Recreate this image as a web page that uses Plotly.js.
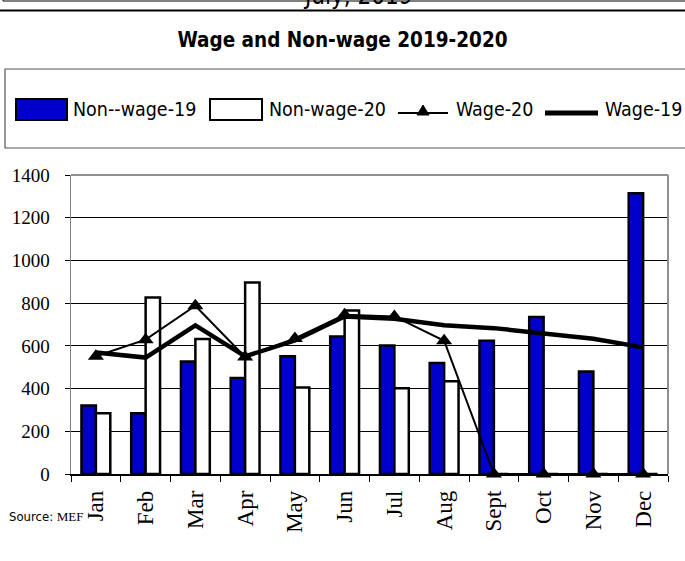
<!DOCTYPE html>
<html>
<head>
<meta charset="utf-8">
<script src="https://cdn.plot.ly/plotly-3.0.1.min.js"></script>
<style>html,body{margin:0;padding:0;background:#fff;}#chart{width:685px;height:561px;}</style>
</head>
<body>
<div id="chart"></div>
<script>
const months = ["Jan","Feb","Mar","Apr","May","Jun","Jul","Aug","Sept","Oct","Nov","Dec"];
const nonWage19 = [321, 285, 527, 449, 551, 644, 602, 520, 624, 735, 480, 1315];
const nonWage20 = [285, 827, 632, 897, 405, 766, 401, 434, 0, 0, 0, 0];
const wage20 = [551, 629, 788, 548, 635, 746, 738, 624, 0, 0, 0, 0];
const wage19 = [569, 545, 696, 551, 625, 738, 727, 696, 683, 657, 633, 593];
const yTicks = [0, 200, 400, 600, 800, 1000, 1200, 1400];
const seriesNames = ["Non--wage-19", "Non-wage-20", "Wage-20", "Wage-19"];

const L = 71, R = 668, T = 175, B = 474, W = 685, H = 561;
const px = x => (x - L) / (R - L);
const py = y => (B - y) / (B - T);

const blue = '#0000CC';
const traces = [
  {type:'bar', name:seriesNames[0], x:months, y:nonWage19,
   marker:{color:blue, line:{color:'#000', width:2.5}}},
  {type:'bar', name:seriesNames[1], x:months, y:nonWage20,
   marker:{color:'#FFFFFF', line:{color:'#000', width:2.5}}},
  {type:'scatter', mode:'lines+markers', name:seriesNames[2], x:months, y:wage20, cliponaxis:false,
   line:{color:'#000', width:2}, marker:{symbol:'triangle-up', size:14, color:'#000'}},
  {type:'scatter', mode:'lines', name:seriesNames[3], x:months, y:wage19, cliponaxis:false,
   line:{color:'#000', width:4.5}}
];

// custom legend (swatches as shapes, labels as text)
const legY = 110;
const legFont = {family:'DejaVu Sans Condensed', size:19.5, color:'#000'};
const legendShapes = [
  {type:'rect', xref:'paper', yref:'paper', x0:px(16), x1:px(67), y0:py(120), y1:py(99),
   fillcolor:blue, line:{color:'#000', width:2}},
  {type:'rect', xref:'paper', yref:'paper', x0:px(210), x1:px(262), y0:py(120), y1:py(99),
   fillcolor:'#fff', line:{color:'#000', width:2}},
  {type:'line', xref:'paper', yref:'paper', x0:px(398), x1:px(448), y0:py(legY+3), y1:py(legY+3),
   line:{color:'#000', width:2}},
  {type:'path', xref:'paper', yref:'paper',
   path:`M ${px(417)} ${py(legY+5)} L ${px(429)} ${py(legY+5)} L ${px(423)} ${py(legY-5)} Z`,
   fillcolor:'#000', line:{color:'#000', width:1}},
  {type:'line', xref:'paper', yref:'paper', x0:px(545), x1:px(598), y0:py(legY+3), y1:py(legY+3),
   line:{color:'#000', width:5}}
];
const legendLabelX = [72, 268, 455, 604];
const legendAnns = seriesNames.map((n, i) => ({
  text:n, xref:'paper', yref:'paper', x:px(legendLabelX[i]), y:py(legY), xanchor:'left', yanchor:'middle',
  showarrow:false, font:legFont, borderpad:0
}));

const layout = {
  width: W, height: H,
  margin: {l: L, r: W - R, t: T, b: H - B},
  paper_bgcolor: '#fff', plot_bgcolor: '#fff',
  barmode: 'group', bargap: 0.42, bargroupgap: 0,
  showlegend: false,
  title: {text: 'Wage and Non-wage 2019-2020', x: 0.5, xanchor: 'center',
          y: 1 - 40/H, yanchor: 'middle',
          font: {family: 'DejaVu Sans Condensed', size: 20.5, color: '#000', weight: 'bold'}},
  xaxis: {type: 'category', range: [-0.5, 11.5], autorange: false,
          showline: true, linecolor: '#000', linewidth: 1.5,
          ticks: 'outside', tickson: 'boundaries', ticklen: 6, tickcolor: '#000',
          tickangle: -90, ticklabelstandoff: 6,
          tickfont: {family: 'Liberation Serif', size: 23, color: '#000'},
          showgrid: false, zeroline: false},
  yaxis: {range: [0, 1400], autorange: false, tickvals: yTicks, ticktext: yTicks.map(String),
          showline: true, linecolor: '#808080', linewidth: 1.5,
          ticks: 'outside', ticklen: 5, tickcolor: '#000',
          ticklabelstandoff: 11,
          tickfont: {family: 'Liberation Serif', size: 19, color: '#000'},
          showgrid: true, gridcolor: '#000', gridwidth: 1, zeroline: false},
  shapes: [
    {type:'rect', xref:'paper', yref:'paper', x0: px(5), x1: px(700), y0: py(148), y1: py(69),
     line:{color:'#555', width:1.2}, fillcolor:'rgba(0,0,0,0)'},
    {type:'line', xref:'paper', yref:'paper', x0: px(0), x1: px(685), y0: py(10.5), y1: py(10.5),
     line:{color:'#000', width:2}},
    {type:'line', xref:'paper', yref:'paper', x0: px(3), x1: px(685), y0: py(1), y1: py(1),
     line:{color:'#000', width:1}},
    {type:'line', xref:'paper', yref:'paper', x0: px(3), x1: px(3), y0: py(1), y1: py(-5),
     line:{color:'#000', width:1}},
    {type:'line', xref:'paper', yref:'paper', x0: 0, x1: 1, y0: 1, y1: 1,
     line:{color:'#909090', width:2}, layer:'above'},
    {type:'line', xref:'paper', yref:'paper', x0: 1, x1: 1, y0: 0, y1: 1,
     line:{color:'#909090', width:2}, layer:'above'}
  ].concat(legendShapes),
  annotations: [
    {text: 'July, 2019', xref:'paper', yref:'paper', x: px(357), y: py(11), xanchor:'center', yanchor:'bottom',
     showarrow:false, borderpad:0, font:{family:'DejaVu Sans Condensed', size:24, color:'#000'}},
    {text: 'Source: <span style="font-family:Liberation Serif">MEF</span>', xref:'paper', yref:'paper',
     x: px(8), y: py(516), xanchor:'left', yanchor:'middle', showarrow:false, borderpad:0,
     font:{family:'DejaVu Sans Condensed', size:13, color:'#000'}}
  ].concat(legendAnns)
};

Plotly.newPlot('chart', traces, layout, {displayModeBar: false, staticPlot: true});
</script>
</body>
</html>
